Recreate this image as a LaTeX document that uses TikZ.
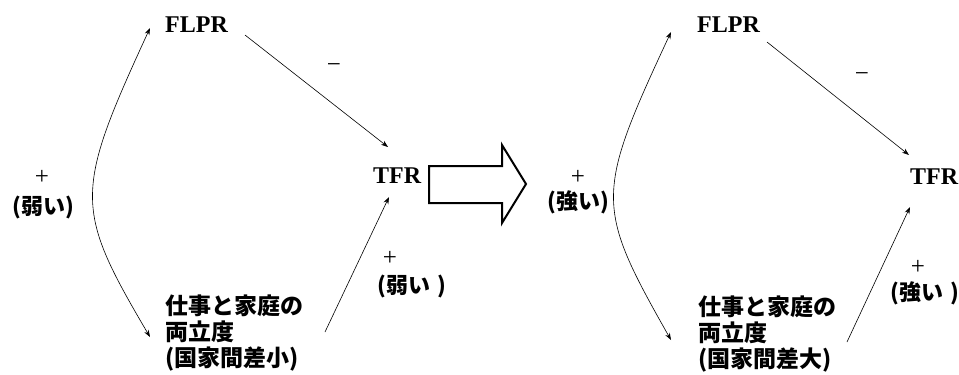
\documentclass[tikz,border=0pt]{standalone}
\usepackage{fontspec}
\setmainfont{Liberation Serif}
\newfontfamily\jp{Noto Sans CJK JP}
\usetikzlibrary{arrows.meta}
\begin{document}
\begin{tikzpicture}[x=1pt,y=-1pt,
  lat/.style={inner sep=0, font=\bfseries\fontsize{24}{28}\selectfont},
  jpl/.style={inner sep=0, align=left, font=\jp\bfseries\fontsize{23}{26}\selectfont},
  sgn/.style={inner sep=0, font=\fontsize{25}{28}\selectfont},
  wk/.style={inner sep=0, font=\jp\bfseries\fontsize{22}{24}\selectfont},
  conn/.style={-{Stealth[length=7pt,width=5pt]}, line width=0.6pt},
  dconn/.style={{Stealth[length=7pt,width=5pt]}-{Stealth[length=7pt,width=5pt]}, line width=0.6pt}]
\useasboundingbox (0,0) rectangle (959,375);
% left panel
\node[lat, anchor=base west] (flprA) at (165,32) {FLPR};
\node[lat, anchor=base west] (tfrA) at (373,183) {TFR};
\node[jpl, anchor=north west] (wfA) at (165,295) {仕事と家庭の\\両立度\\(国家間差小)};
\node[sgn] (minusA) at (334,68) {−};
\node[sgn] (plusA1) at (42,177) {+};
\node[wk] (weakA1) at (43,208) {(弱い)};
\node[sgn] (plusA2) at (390,258) {+};
\node[wk, anchor=west] (weakA2) at (377,287) {(弱い\kern.35em)};
\draw[conn] ([shift={(80,3)}]flprA.base west) -- ([shift={(15,-36)}]tfrA.base west);
\draw[conn] ([shift={(160,37)}]wfA.north west) -- ([shift={(16,14)}]tfrA.base west);
\draw[dconn] ([shift={(-15,-4)}]flprA.base west) .. controls (74,193) and (74,208) .. ([shift={(-15,42)}]wfA.north west);
% block arrow
\draw[line width=2pt, line join=miter] (429,166) -- (502,166) -- (502,145) -- (526,184) -- (502,223) -- (502,203) -- (429,203) -- cycle;
% right panel
\node[lat, anchor=base west] (flprB) at (697,32) {FLPR};
\node[lat, anchor=base west] (tfrB) at (910,184) {TFR};
\node[jpl, anchor=north west] (wfB) at (698,296) {仕事と家庭の\\両立度\\(国家間差大)};
\node[sgn] (minusB) at (862,77) {−};
\node[sgn] (plusB1) at (578,177) {+};
\node[wk, anchor=west] (strB1) at (547,202) {(強い)};
\node[sgn] (plusB2) at (918,267) {+};
\node[wk, anchor=west] (strB2) at (890,293) {(強い\kern.35em)};
\draw[conn] ([shift={(70,10)}]flprB.base west) -- ([shift={(-1,-29)}]tfrB.base west);
\draw[conn] ([shift={(149,46)}]wfB.north west) -- ([shift={(0,23)}]tfrB.base west);
\draw[dconn] ([shift={(-26,0)}]flprB.base west) .. controls (595,195) and (595,206) .. ([shift={(-27,44)}]wfB.north west);
\end{tikzpicture}
\end{document}
